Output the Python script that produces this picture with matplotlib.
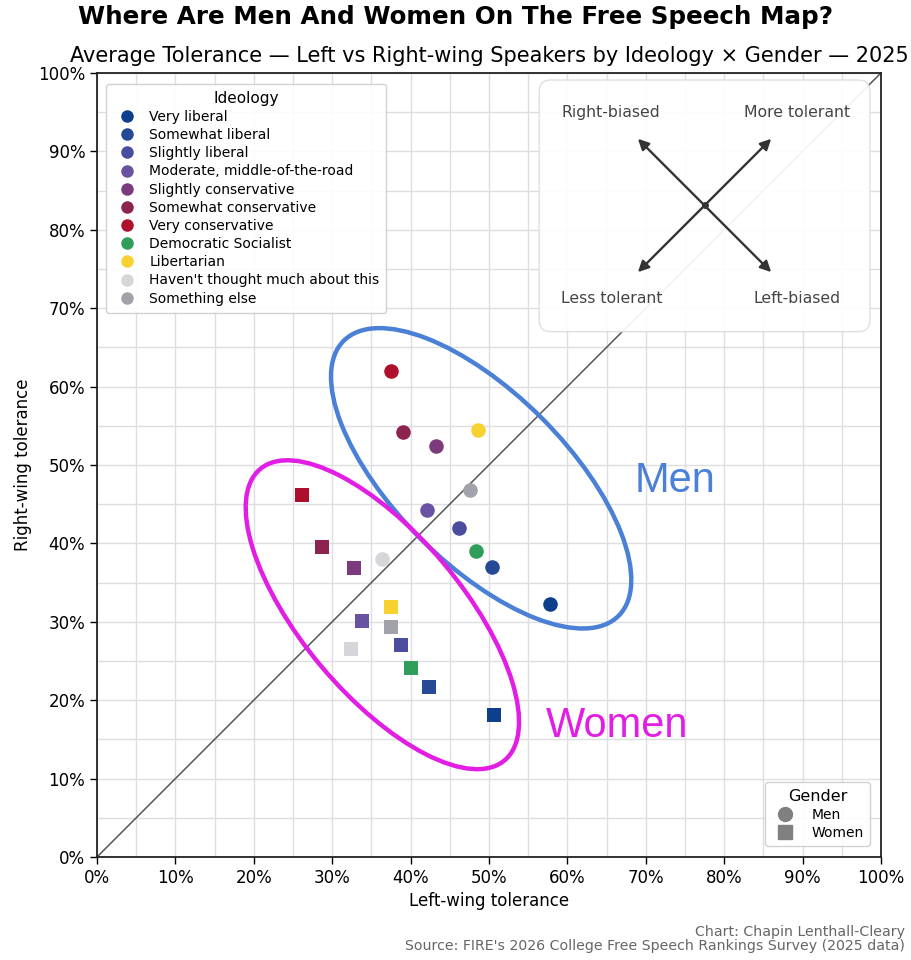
import numpy as np
import matplotlib
matplotlib.use('Agg')
from matplotlib import pyplot as plt
from matplotlib.patches import Ellipse, FancyBboxPatch
from matplotlib.lines import Line2D
from matplotlib.ticker import MultipleLocator, PercentFormatter

# ideology order, colours
ideologies = ['Very liberal', 'Somewhat liberal', 'Slightly liberal', 'Moderate, middle-of-the-road',
              'Slightly conservative', 'Somewhat conservative', 'Very conservative',
              'Democratic Socialist', 'Libertarian', "Haven't thought much about this", 'Something else']
colors = ['#0d3f8c', '#264a96', '#4a4c9e', '#6a52a3', '#7c3a7c', '#8c2350', '#ad0f2c',
          '#2f9e5b', '#f7d130', '#d6d6da', '#a2a2aa']

# (left-wing tolerance, right-wing tolerance) in %
men_left = [57.8, 50.4, 46.2, 42.1, 43.2, 39.0, 37.5, 48.3, 48.6, 36.4, 47.6]
men_right = [32.3, 37.0, 42.0, 44.3, 52.4, 54.2, 62.0, 39.0, 54.5, 38.0, 46.8]
women_left = [50.6, 42.3, 38.8, 33.8, 32.8, 28.7, 26.1, 40.1, 37.5, 32.4, 37.5]
women_right = [18.1, 21.7, 27.0, 30.1, 36.9, 39.5, 46.2, 24.1, 31.9, 26.5, 29.3]

fig = plt.figure(figsize=(9.11, 9.6), dpi=100)
ax = fig.add_axes([0.1065, 0.1073, 0.8605, 0.8167])

ax.set_xlim(0, 100)
ax.set_ylim(0, 100)
ax.xaxis.set_major_locator(MultipleLocator(10))
ax.yaxis.set_major_locator(MultipleLocator(10))
ax.xaxis.set_minor_locator(MultipleLocator(5))
ax.yaxis.set_minor_locator(MultipleLocator(5))
ax.xaxis.set_major_formatter(PercentFormatter(decimals=0))
ax.yaxis.set_major_formatter(PercentFormatter(decimals=0))
ax.tick_params(which='minor', length=0)
ax.tick_params(which='major', labelsize=12, length=5, width=1)
ax.grid(True, which='both', color='#dedee2', lw=1.0, zorder=0)
ax.set_axisbelow(True)
for sp in ax.spines.values():
    sp.set_linewidth(1.3)
    sp.set_color('#222222')

# parity line
ax.plot([0, 100], [0, 100], color='#555555', lw=1.1, zorder=1)

for i in range(len(ideologies)):
    ax.scatter(men_left[i], men_right[i], s=110, marker='o', color=colors[i], zorder=4, linewidths=0)
    ax.scatter(women_left[i], women_right[i], s=100, marker='s', color=colors[i], zorder=4, linewidths=0)

# group ellipses
ax.add_patch(Ellipse((49.0, 48.3), 49.6, 21.8, angle=-45, fill=False, ec='#4a80d6', lw=3.2, zorder=3))
ax.add_patch(Ellipse((36.4, 30.9), 48.5, 20.4, angle=-50, fill=False, ec='#e21ee4', lw=3.2, zorder=3))
ax.text(73.8, 48.0, 'Men', color='#4a80d6', fontsize=30, family='Liberation Sans', ha='center', va='center')
ax.text(66.4, 16.7, 'Women', color='#e21ee4', fontsize=30, family='Liberation Sans', ha='center', va='center')

ax.set_xlabel('Left-wing tolerance', fontsize=12)
ax.set_ylabel('Right-wing tolerance', fontsize=12)
ax.set_title('Average Tolerance \u2014 Left vs Right-wing Speakers by Ideology \u00d7 Gender \u2014 2025',
             fontsize=15, pad=8)
fig.suptitle('Where Are Men And Women On The Free Speech Map?', fontsize=17.7, fontweight='bold', y=0.995)

# legends
ideo_handles = [Line2D([], [], marker='o', ls='', color=c, markersize=8) for c in colors]
leg1 = ax.legend(ideo_handles, ideologies, title='Ideology', loc='upper left', fontsize=10,
                 title_fontsize=11, labelspacing=0.3, handletextpad=0.6, borderpad=0.5,
                 bbox_to_anchor=(0.003, 0.995), framealpha=0.9, edgecolor='#cccccc')
ax.add_artist(leg1)
gender_handles = [Line2D([], [], marker='o', ls='', color='#808080', markersize=10),
                  Line2D([], [], marker='s', ls='', color='#808080', markersize=10)]
ax.legend(gender_handles, ['Men', 'Women'], title='Gender', loc='lower right', fontsize=10,
          title_fontsize=11.5, labelspacing=0.3, borderpad=0.45, handletextpad=0.9,
          bbox_to_anchor=(0.995, 0.005), framealpha=0.9, edgecolor='#cccccc')

# direction key inset
box = FancyBboxPatch((56.4, 67.0), 42.2, 32.1, boxstyle='round,pad=0,rounding_size=1.5',
                     transform=ax.transData, fc='white', ec='#dddddd', lw=1, alpha=0.93, zorder=5)
ax.add_patch(box)
cx, cy = 77.5, 83.1
d = 8.5
for dx, dy in [(1, 1), (-1, 1), (-1, -1), (1, -1)]:
    ax.annotate('', xy=(cx + dx * d, cy + dy * d), xytext=(cx, cy), zorder=6,
                arrowprops=dict(arrowstyle='-|>', color='#333333', lw=1.7, mutation_scale=16,
                                shrinkA=0, shrinkB=0))
ax.plot(cx, cy, 'o', color='#333333', markersize=4, zorder=7)
kw = dict(fontsize=11.3, color='#444444', ha='center', va='center', zorder=7)
ax.text(65.6, 94.9, 'Right-biased', **kw)
ax.text(89.3, 94.9, 'More tolerant', **kw)
ax.text(65.6, 71.2, 'Less tolerant', **kw)
ax.text(89.3, 71.2, 'Left-biased', **kw)

fig.text(0.993, 0.007, "Chart: Chapin Lenthall-Cleary\nSource: FIRE's 2026 College Free Speech Rankings Survey (2025 data)",
         ha='right', va='bottom', fontsize=10.2, color='#666666', linespacing=1.0)

fig.savefig('out.png', dpi=100)
